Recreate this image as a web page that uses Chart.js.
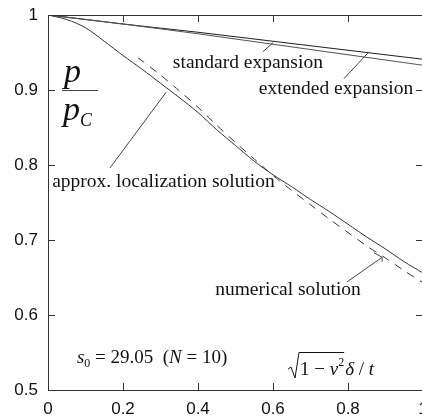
<!DOCTYPE html>
<html>
<head>
<meta charset="utf-8">
<script src="https://cdn.jsdelivr.net/npm/chart.js@4"></script>
<style>
html, body { margin:0; padding:0; background:#fff; overflow:hidden; }
canvas { display:block; }
</style>
</head>
<body>
<canvas id="myChart" width="436" height="419" style="width:436px;height:419px"></canvas>
<script>
// values
let locX = [0, 0.05, 0.1, 0.15, 0.2, 0.25, 0.3, 0.35, 0.4, 0.45, 0.5, 0.55, 0.6, 0.65, 0.7, 0.75, 0.8, 0.85, 0.9, 0.95, 1];
let locY = [1, 0.994, 0.983, 0.965, 0.946, 0.928, 0.909, 0.89, 0.87, 0.847, 0.826, 0.805, 0.787, 0.771, 0.754, 0.738, 0.721, 0.704, 0.688, 0.671, 0.656];
let numX = [0.24, 0.3, 0.35, 0.4, 0.45, 0.5, 0.55, 0.6, 0.65, 0.7, 0.75, 0.8, 0.85, 0.9, 0.95, 1];
let numY = [0.943, 0.92, 0.899, 0.877, 0.853, 0.83, 0.808, 0.786, 0.766, 0.747, 0.728, 0.71, 0.692, 0.676, 0.659, 0.643];
let expX = [0, 0.2, 0.4, 0.6, 0.8, 1];
let stdY = [1, 0.988, 0.975, 0.961, 0.947, 0.933];
let extY = [1, 0.988, 0.977, 0.965, 0.953, 0.941];
let xTicks = [0, 0.2, 0.4, 0.6, 0.8, 1];
let yTicks = [0.5, 0.6, 0.7, 0.8, 0.9, 1];

let labels = [
    { text: 'standard expansion', x: 0.533, y: 0.936 },
    { text: 'extended expansion', x: 0.768, y: 0.901 },
    { text: 'approx. localization solution', x: 0.308, y: 0.777 },
    { text: 'numerical solution', x: 0.64, y: 0.633 }
];
let pointers = [
    [[0.573, 0.951], [0.6, 0.963]],
    [[0.789, 0.915], [0.856, 0.951]],
    [[0.165, 0.796], [0.315, 0.897]],
    [[0.797, 0.644], [0.891, 0.677]],
    [[0.869, 0.683], [0.891, 0.677], [0.891, 0.671]]
];

function pts(xs, ys) {
    return xs.map(function (x, i) { return { x: x, y: ys[i] }; });
}

const SERIF = '"Liberation Serif", "Times New Roman", serif';

function rich(ctx, parts, x, y) {
    parts.forEach(function (p) {
        ctx.font = p.f;
        ctx.fillText(p.t, x, y + (p.dy || 0));
        x += ctx.measureText(p.t).width;
    });
    return x;
}

const extras = {
    id: 'extras',
    afterDraw: function (chart) {
        let ctx = chart.ctx;
        let xs = chart.scales.x, ys = chart.scales.y;
        let a = chart.chartArea;
        let px = function (v) { return xs.getPixelForValue(v); };
        let py = function (v) { return ys.getPixelForValue(v); };
        ctx.save();
        // frame and inward ticks
        ctx.strokeStyle = '#333';
        ctx.lineWidth = 1;
        ctx.strokeRect(a.left + 0.5, a.top + 0.5, a.right - a.left, a.bottom - a.top);
        ctx.beginPath();
        xTicks.forEach(function (t) {
            let x = Math.round(px(t)) + 0.5;
            ctx.moveTo(x, a.bottom); ctx.lineTo(x, a.bottom - 7);
            ctx.moveTo(x, a.top); ctx.lineTo(x, a.top + 7);
        });
        yTicks.forEach(function (t) {
            let y = Math.round(py(t)) + 0.5;
            ctx.moveTo(a.left, y); ctx.lineTo(a.left + 7, y);
            ctx.moveTo(a.right, y); ctx.lineTo(a.right - 7, y);
        });
        ctx.stroke();

        // pointer lines
        ctx.strokeStyle = '#444';
        pointers.forEach(function (line) {
            ctx.beginPath();
            line.forEach(function (p, i) {
                if (i == 0) ctx.moveTo(px(p[0]), py(p[1]));
                else ctx.lineTo(px(p[0]), py(p[1]));
            });
            ctx.stroke();
        });

        // text labels
        ctx.fillStyle = '#111';
        ctx.textAlign = 'center';
        ctx.textBaseline = 'middle';
        ctx.font = '19.5px ' + SERIF;
        labels.forEach(function (l) {
            ctx.fillText(l.text, px(l.x), py(l.y));
        });

        // p / p_C
        ctx.textAlign = 'left';
        ctx.textBaseline = 'alphabetic';
        ctx.font = 'italic 34px ' + SERIF;
        ctx.fillText('p', 64, 82);
        ctx.fillText('p', 63, 120);
        ctx.font = 'italic 18px ' + SERIF;
        ctx.fillText('C', 80, 126);
        ctx.beginPath();
        ctx.moveTo(62, 90.5); ctx.lineTo(98, 90.5);
        ctx.stroke();

        // s0 = 29.05 (N = 10)
        let r = '19px ' + SERIF, ri = 'italic 19px ' + SERIF;
        rich(ctx, [
            { t: 's', f: ri }, { t: '0', f: '12px ' + SERIF, dy: 4 },
            { t: ' = 29.05  (', f: r }, { t: 'N', f: ri }, { t: ' = 10)', f: r }
        ], px(0.077), py(0.536));

        // sqrt(1 - nu^2) delta / t
        let bx = px(0.64), by = py(0.52);
        let endX = rich(ctx, [
            { t: '1 \u2212 ', f: r }, { t: '\u03BD', f: ri }, { t: '2', f: '12px ' + SERIF, dy: -9 }
        ], bx + 12, by);
        rich(ctx, [{ t: '\u03B4', f: ri }, { t: ' / ', f: r }, { t: 't', f: ri }], endX + 1, by);
        ctx.strokeStyle = '#111';
        ctx.beginPath();
        ctx.moveTo(bx, by - 6);
        ctx.lineTo(bx + 3, by - 8);
        ctx.lineTo(bx + 7, by + 3);
        ctx.lineTo(bx + 11, by - 22.5);
        ctx.lineTo(endX, by - 22.5);
        ctx.stroke();
        ctx.restore();
    }
};

function fmt(v) { return String(+Number(v).toFixed(1)); }

let ctx = document.getElementById('myChart').getContext('2d');
let myChart = new Chart(ctx, {
    type: 'line',
    data: {
        datasets: [
            { label: 'standard expansion', data: pts(expX, stdY), borderColor: '#555', borderWidth: 1.2 },
            { label: 'extended expansion', data: pts(expX, extY), borderColor: '#222', borderWidth: 1.2 },
            { label: 'approx. localization solution', data: pts(locX, locY), borderColor: '#333', borderWidth: 1, tension: 0.3 },
            { label: 'numerical solution', data: pts(numX, numY), borderColor: '#333', borderWidth: 1, borderDash: [8, 7], tension: 0.3 }
        ]
    },
    options: {
        responsive: false,
        devicePixelRatio: 1,
        animation: false,
        layout: { padding: { top: 15, right: 13, left: 0, bottom: 0 } },
        elements: { point: { radius: 0 } },
        plugins: { legend: { display: false }, tooltip: { enabled: false } },
        scales: {
            x: {
                type: 'linear', min: 0, max: 1,
                grid: { display: false }, border: { display: false },
                afterBuildTicks: function (s) { s.ticks = xTicks.map(function (v) { return { value: v }; }); },
                afterFit: function (s) { s.height = 29; },
                ticks: { color: '#111', font: { family: '"Liberation Sans", Arial, sans-serif', size: 17 }, padding: 1, maxRotation: 0, callback: fmt }
            },
            y: {
                type: 'linear', min: 0.5, max: 1,
                grid: { display: false }, border: { display: false },
                afterBuildTicks: function (s) { s.ticks = yTicks.map(function (v) { return { value: v }; }); },
                afterFit: function (s) { s.width = 48; },
                ticks: { color: '#111', font: { family: '"Liberation Sans", Arial, sans-serif', size: 17 }, padding: 2, callback: fmt }
            }
        }
    },
    plugins: [extras]
});
</script>
</body>
</html>
